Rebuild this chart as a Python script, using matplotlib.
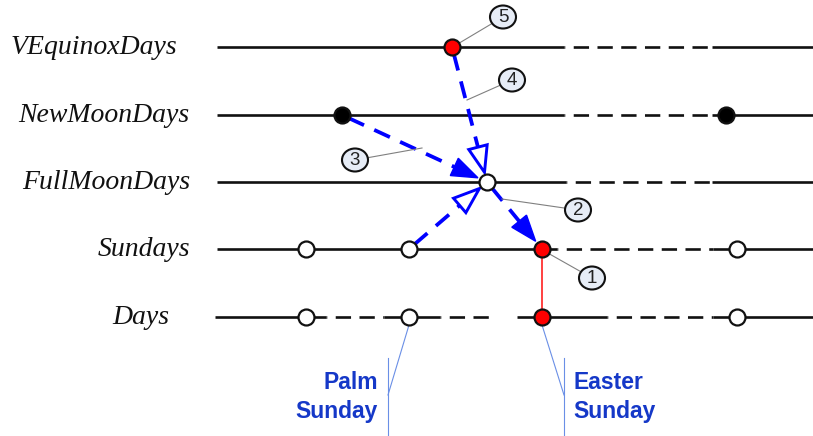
import numpy as np
import matplotlib
matplotlib.use("Agg")
import matplotlib.pyplot as plt
from matplotlib.patches import Polygon, Ellipse

# ---------------- data (pixel-space diagram coordinates) ----------------
row_names = ["VEquinoxDays", "NewMoonDays", "FullMoonDays", "Sundays", "Days"]
row_y = [47, 115, 182, 249, 317]
label_right = [177, 189, 190, 190, 169]

# timeline segments per row: (x_start, x_end, style)
row_segments = [
    [(217, 564, "solid"), (564, 712, "dashed"), (712, 813, "solid")],
    [(217, 564, "solid"), (564, 712, "dashed"), (712, 813, "solid")],
    [(217, 566, "solid"), (566, 712, "dashed"), (712, 813, "solid")],
    [(217, 557, "solid"), (557, 713, "dashed"), (713, 813, "solid")],
    [(215, 326, "solid"), (326, 384, "dashed"), (384, 440, "solid"),
     (440, 493, "dashed"), (517, 607, "solid"), (607, 713, "dashed"),
     (713, 813, "solid")],
]

# event points per row: (x, colour)
row_points = [
    [(452, "red")],
    [(342, "black"), (726, "black")],
    [(487, "white")],
    [(306, "white"), (409, "white"), (542, "red"), (737, "white")],
    [(306, "white"), (409, "white"), (542, "red"), (737, "white")],
]

# dependency arrows: (from_row, from_x, to_row, to_x, head)
arrows = [
    (0, 452, 2, 487, "open"),
    (1, 342, 2, 487, "filled"),
    (3, 409, 2, 487, "open"),
    (2, 487, 3, 542, "filled"),
]

# numbered callouts: (number, circle_x, circle_y, leader_x, leader_y)
callouts = [
    ("5", 503, 17, 456, 45),
    ("4", 512, 80, 467, 100),
    ("3", 355, 160, 422, 148),
    ("2", 578, 210, 502, 199),
    ("1", 592, 278, 546, 252),
]

# bottom labels: (lines, text_x, align, bar_x, leader_from_x)
bottom_labels = [
    (["Palm", "Sunday"], 378, "right", 388, 409),
    (["Easter", "Sunday"], 573, "left", 564, 542),
]

# ---------------- drawing ----------------
W, H = 813, 436
fig = plt.figure(figsize=(W / 100, H / 100), dpi=100)
ax = fig.add_axes([0, 0, 1, 1])
ax.set_xlim(0, W)
ax.set_ylim(H, 0)
ax.axis("off")

LINE_C = "#111111"
BLUE = "#0000ff"
TXT_BLUE = "#1538c8"
THIN_BLUE = "#6a8fe6"

# row labels
for name, y, xr in zip(row_names, row_y, label_right):
    ax.text(xr, y, name, ha="right", va="center", fontsize=20,
            family="Liberation Serif", style="italic", color="#111111")

# timelines
for segs, y in zip(row_segments, row_y):
    for x0, x1, st in segs:
        if st == "solid":
            ax.plot([x0, x1], [y, y], color=LINE_C, lw=1.9,
                    solid_capstyle="butt", zorder=2)
        else:
            ax.plot([x0, x1], [y, y], color=LINE_C, lw=1.9,
                    linestyle=(5.5, (5.8, 3.2)), dash_capstyle="butt",
                    zorder=2)

# red link Sundays -> Days
ax.plot([542, 542], [row_y[3], row_y[4]], color="#ff2020", lw=1.2, zorder=2)

# arrows
def draw_arrow(p0, p1, head, shrink0=7, shrink1=10, hl=26, hw=9.5):
    p0 = np.array(p0, float)
    p1 = np.array(p1, float)
    u = (p1 - p0) / np.linalg.norm(p1 - p0)
    n = np.array([-u[1], u[0]])
    start = p0 + u * shrink0
    tip = p1 - u * shrink1
    base = tip - u * hl
    ax.plot([start[0], base[0]], [start[1], base[1]], color=BLUE, lw=2.7,
            linestyle=(0, (4.6, 3.0)), dash_capstyle="butt", zorder=3)
    tri = [tip, base + n * hw, base - n * hw]
    if head == "filled":
        ax.add_patch(Polygon(tri, closed=True, facecolor=BLUE,
                             edgecolor=BLUE, lw=1.0, zorder=4))
    else:
        ax.add_patch(Polygon(tri, closed=True, facecolor="white",
                             edgecolor=BLUE, lw=2.1, joinstyle="miter",
                             zorder=4))

for r0, x0, r1, x1, head in arrows:
    draw_arrow((x0, row_y[r0]), (x1, row_y[r1]), head)

# points
for pts, y in zip(row_points, row_y):
    for x, c in pts:
        ax.plot([x], [y], marker="o", markersize=11.5, markerfacecolor=c,
                markeredgecolor="#111111", markeredgewidth=1.6, zorder=6)

# callouts
for num, cx, cy, lx, ly in callouts:
    ax.plot([lx, cx], [ly, cy], color="#808080", lw=0.8, zorder=5)
    ax.add_patch(Ellipse((cx, cy), 26, 23, facecolor="#e6ecf6",
                         edgecolor="#111111", lw=1.5, zorder=7))
    ax.text(cx, cy + 0.5, num, ha="center", va="center", fontsize=13.5,
            family="Liberation Sans", color="#222222", zorder=8)

# bottom labels
for lines, tx, align, bx, fx in bottom_labels:
    ax.plot([bx, bx], [358, H], color=THIN_BLUE, lw=0.8, zorder=2)
    ax.plot([fx, bx], [row_y[4] + 8, 395], color=THIN_BLUE, lw=0.8, zorder=2)
    for i, t in enumerate(lines):
        ax.text(tx, 389 + 29 * i, t, ha=align, va="baseline", fontsize=16.5,
                family="Liberation Sans", weight="bold", color=TXT_BLUE)

fig.savefig("out.png", dpi=100)
